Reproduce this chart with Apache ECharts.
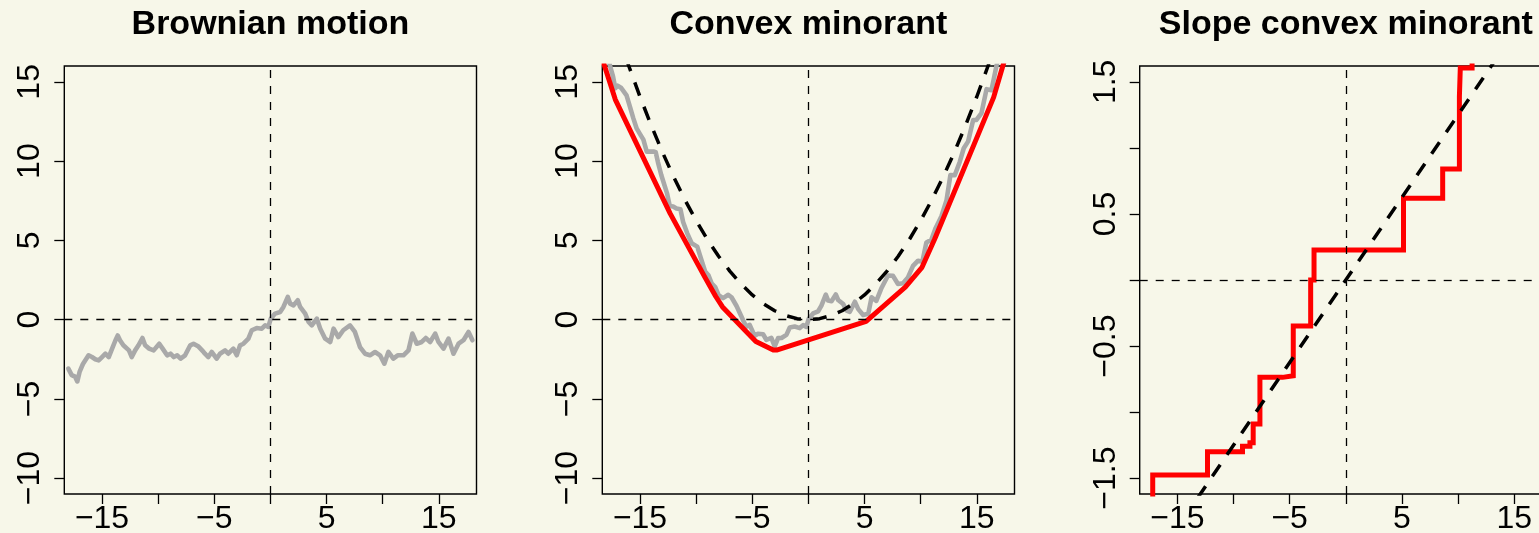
<!DOCTYPE html>
<html>
<head>
<meta charset="utf-8">
<script src="https://cdn.jsdelivr.net/npm/echarts@6/dist/echarts.min.js"></script>
<style>
  html, body { margin: 0; padding: 0; background: #F7F7E9; }
  #chart { width: 1539px; height: 533px; }
</style>
</head>
<body>
<div id="chart"></div>
<script>
// Two-sided Brownian path W(t)
const bmTime = [-18.0, -17.7, -17.4, -17.2, -17.0, -16.7, -16.2, -15.9, -15.6, -15.3, -15.0, -14.7, -14.4, -14.1,
  -13.8, -13.6, -13.4, -13.1, -12.6, -12.35, -12.05, -11.75, -11.4, -11.16, -10.8, -10.4, -9.9, -9.6, -9.2, -8.9,
  -8.6, -8.3, -8.0, -7.6, -7.14, -6.85, -6.4, -6.0, -5.83, -5.53, -5.23, -4.79, -4.49, -4.04, -3.75, -3.3, -3.0,
  -2.7, -2.4, -1.96, -1.66, -1.22, -0.77, -0.47, -0.18, 0.03, 0.42, 0.87, 1.16, 1.55, 1.76, 2.06, 2.44, 2.65, 3.1,
  3.4, 3.69, 4.14, 4.44, 4.88, 5.33, 5.63, 6.05, 6.49, 7.09, 7.53, 7.98, 8.43, 8.87, 9.32, 9.77, 10.15, 10.51,
  10.95, 11.34, 11.85, 12.3, 12.65, 13.04, 13.48, 13.84, 14.23, 14.68, 14.97, 15.42, 15.87, 16.31, 16.76, 17.2,
  17.65, 18.0];
const bmValue = [-3.09, -3.5, -3.6, -3.9, -3.3, -2.8, -2.25, -2.36, -2.5, -2.57, -2.36, -2.15, -2.36, -1.83,
  -1.3, -1.0, -1.3, -1.62, -1.94, -2.36, -1.94, -1.62, -1.16, -1.62, -1.83, -1.94, -1.52, -1.83, -2.25, -2.15,
  -2.36, -2.25, -2.46, -2.25, -1.62, -1.52, -1.7, -2.0, -2.15, -2.36, -2.04, -2.46, -2.15, -1.94, -2.15, -1.83, -2.25,
  -1.62, -1.52, -1.2, -0.67, -0.53, -0.57, -0.36, -0.46, 0.06, 0.38, 0.48, 0.8, 1.43, 1.01, 0.9, 1.22, 0.8, 0.38,
  -0.15, -0.36, 0.06, -0.57, -1.2, -1.41, -0.57, -1.1, -0.67, -0.36, -0.78, -1.73, -2.15, -2.25, -2.04, -2.25, -2.78, -2.04,
  -2.46, -2.25, -2.25, -1.94, -0.88, -1.52, -1.41, -1.16, -1.41, -0.88, -1.41, -1.83, -1.2, -2.15, -1.52, -1.3,
  -0.78, -1.3];

// Quadratic drift t^2/16 and its slope t/8 (dashed reference curves)
const parabolaT = [-17, -16, -15, -14, -13, -12, -11, -10, -9, -8, -7, -6, -5, -4, -3, -2, -1, 0,
  1, 2, 3, 4, 5, 6, 7, 8, 9, 10, 11, 12, 13, 14, 15, 16, 17];
const parabolaV = [18.06, 16, 14.06, 12.25, 10.56, 9, 7.56, 6.25, 5.06, 4, 3.06, 2.25, 1.56, 1, 0.56, 0.25, 0.06, 0,
  0.06, 0.25, 0.56, 1, 1.56, 2.25, 3.06, 4, 5.06, 6.25, 7.56, 9, 10.56, 12.25, 14.06, 16, 18.06];
const slopeLineT = [-18.4, 18.4];
const slopeLineV = [-2.3, 2.3];

// Vertices of the greatest convex minorant of W(t) + t^2/16
const minorantT = [-18.2, -17.2, -12.32, -9.2, -8.54, -8.25, -7.65, -5.63, -4.68, -3.13, -2.83, 5.14, 8.63,
  10.12, 10.2, 11.25, 16.5, 17.3, 18.0];
const minorantV = [16.1, 13.88, 6.7, 2.65, 1.82, 1.46, 0.8, -0.69, -1.38, -1.92, -1.92, -0.11, 2.05,
  3.3, 3.41, 5.09, 14.02, 15.95, 17.65];

// Slope of the minorant: value held from each knot to the next
const slopeKnotT = [-18.0, -17.2, -12.32, -9.2, -8.54, -8.25, -7.65, -5.63, -4.68, -3.13, -2.83, 5.14, 8.63,
  10.12, 10.2, 11.25, 16.5, 18.0];
const slopeKnotV = [-2.22, -1.477, -1.30, -1.258, -1.232, -1.09, -0.737, -0.725, -0.348, 0.0, 0.227, 0.619, 0.841,
  1.389, 1.604, 1.70, 2.4, 2.4];

// Axis ticks and labels
const xTicks = [-15, -10, -5, 0, 5, 10, 15];
const xLabels = [-15, -5, 5, 15];
const yTicksPath = [-10, -5, 0, 5, 10, 15];
const yLabelsPath = [-10, -5, 0, 5, 10, 15];
const yTicksSlope = [-1.5, -1, -0.5, 0, 0.5, 1, 1.5];
const yLabelsSlope = [-1.5, -0.5, 0.5, 1.5];
const titles = ['Brownian motion', 'Convex minorant', 'Slope convex minorant'];

const pairs = (xs, ys) => xs.map((x, i) => [x, ys[i]]);
// The middle panel shows the same path with the t^2/16 drift added
const tilted = bmTime.map((t, i) => [t, bmValue[i] + t * t / 16]);

const FONT = '"Liberation Sans", Arial, Helvetica, sans-serif';
const AXIS_FONT = 32;
const fmt = v => (v < 0 ? '\u2212' : '') + String(Math.abs(v));

const panelLeft = [64.3, 602.3, 1139.7];
const panelW = 412.2;
const panelTop = 66;
const panelH = 428;

const grids = panelLeft.map(l => ({
  left: l, top: panelTop, width: panelW, height: panelH,
  show: true, borderColor: '#000', borderWidth: 1.4, backgroundColor: 'transparent',
  containLabel: false, outerBoundsMode: 'none'
}));

const xAxes = panelLeft.map((_, g) => ({
  gridIndex: g, type: 'value', min: -18.36, max: 18.36,
  axisLine: { show: false, onZero: false },
  splitLine: { show: false },
  axisTick: { show: true, inside: false, length: 10, customValues: xTicks, lineStyle: { color: '#000', width: 1.3 } },
  axisLabel: { customValues: xLabels, formatter: fmt, fontSize: AXIS_FONT, fontFamily: FONT, color: '#000', margin: 9 }
}));

const yAxes = panelLeft.map((_, g) => {
  const slope = g === 2;
  return {
    gridIndex: g, type: 'value',
    min: slope ? -1.62 : -11, max: slope ? 1.62 : 16,
    axisLine: { show: false, onZero: false },
    splitLine: { show: false },
    axisTick: { show: true, inside: false, length: 10, customValues: slope ? yTicksSlope : yTicksPath,
      lineStyle: { color: '#000', width: 1.3 } },
    axisLabel: { customValues: slope ? yLabelsSlope : yLabelsPath, formatter: fmt, rotate: 90,
      fontSize: AXIS_FONT, fontFamily: FONT, color: '#000', margin: 18 }
  };
});

const zeroLines = {
  silent: true, symbol: ['none', 'none'], label: { show: false },
  lineStyle: { color: '#000', type: [8, 8], width: 1.3 },
  data: [{ yAxis: 0 }, { xAxis: 0 }]
};

const lineBase = { type: 'line', showSymbol: false, symbol: 'none', clip: true, animation: false };
const pathStyle = { color: '#A9A9A9', width: 4.6, join: 'round', cap: 'round' };

const series = [
  Object.assign({}, lineBase, { xAxisIndex: 0, yAxisIndex: 0, data: pairs(bmTime, bmValue), z: 2, lineStyle: pathStyle }),
  Object.assign({}, lineBase, { xAxisIndex: 0, yAxisIndex: 0, data: [], z: 5, markLine: zeroLines }),

  Object.assign({}, lineBase, { xAxisIndex: 1, yAxisIndex: 1, data: tilted, z: 2, lineStyle: pathStyle }),
  Object.assign({}, lineBase, { xAxisIndex: 1, yAxisIndex: 1, data: pairs(parabolaT, parabolaV), z: 3,
    lineStyle: { color: '#000', width: 3.5, type: [14, 12] } }),
  Object.assign({}, lineBase, { xAxisIndex: 1, yAxisIndex: 1, data: pairs(minorantT, minorantV), z: 4,
    lineStyle: { color: '#FF0000', width: 5, join: 'round', cap: 'round' } }),
  Object.assign({}, lineBase, { xAxisIndex: 1, yAxisIndex: 1, data: [], z: 5, markLine: zeroLines }),

  Object.assign({}, lineBase, { xAxisIndex: 2, yAxisIndex: 2, data: pairs(slopeKnotT, slopeKnotV), step: 'end', z: 3,
    lineStyle: { color: '#FF0000', width: 5, join: 'miter', cap: 'butt' } }),
  Object.assign({}, lineBase, { xAxisIndex: 2, yAxisIndex: 2, data: pairs(slopeLineT, slopeLineV), z: 4,
    lineStyle: { color: '#000', width: 3.5, type: [14, 12] } }),
  Object.assign({}, lineBase, { xAxisIndex: 2, yAxisIndex: 2, data: [], z: 5, markLine: zeroLines })
];

const chart = echarts.init(document.getElementById('chart'), null, { renderer: 'canvas' });
chart.setOption({
  backgroundColor: '#F7F7E9',
  animation: false,
  title: titles.map((t, g) => ({
    text: t, left: panelLeft[g] + panelW / 2, top: 8, padding: 0,
    textAlign: 'center', textVerticalAlign: 'top',
    textStyle: { fontFamily: FONT, fontWeight: 'bold', fontSize: 34, color: '#000' }
  })),
  grid: grids,
  xAxis: xAxes,
  yAxis: yAxes,
  series: series
});
</script>
</body>
</html>
